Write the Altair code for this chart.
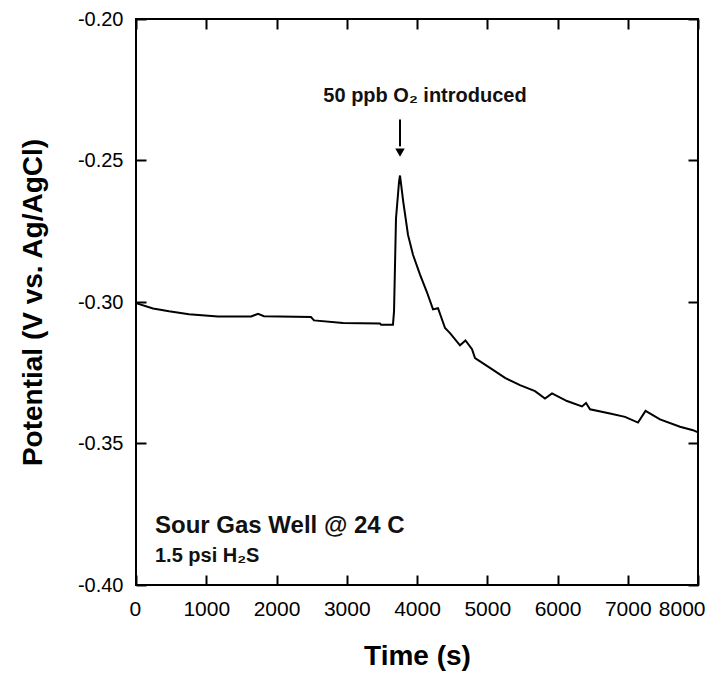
import altair as alt
import pandas as pd

# ---- data ----
time_s = [0, 242, 470, 754, 1167, 1637, 1737, 1822, 2491, 2534,
          2947, 3473, 3488, 3658, 3673, 3701, 3744, 3758, 3805, 3872,
          3943, 4043, 4138, 4228, 4299, 4399, 4470, 4612, 4690, 4783,
          4826, 5039, 5253, 5466, 5680, 5822, 5922, 6135, 6349, 6406,
          6463, 6747, 6961, 7146, 7253, 7459, 7744, 7929, 8000]
potential = [-0.3004, -0.3023, -0.3033, -0.3043, -0.3051, -0.3051, -0.3042, -0.3050, -0.3053, -0.3065,
             -0.3074, -0.3076, -0.3080, -0.3080, -0.3033, -0.2705, -0.2576, -0.2553, -0.2647, -0.2763,
             -0.2833, -0.2903, -0.2963, -0.3026, -0.3022, -0.3092, -0.3110, -0.3153, -0.3136, -0.3167,
             -0.3198, -0.3233, -0.3268, -0.3294, -0.3315, -0.3341, -0.3323, -0.3350, -0.3369, -0.3357,
             -0.3379, -0.3394, -0.3406, -0.3426, -0.3385, -0.3415, -0.3441, -0.3453, -0.3461]

x_ticks = [0, 1000, 2000, 3000, 4000, 5000, 6000, 7000, 8000]
y_ticks = [-0.40, -0.35, -0.30, -0.25, -0.20]

notes_text = ["50 ppb O\u2082 introduced", "Sour Gas Well @ 24 C", "1.5 psi H\u2082S"]
notes_t = [4114, 270, 270]
notes_v = [-0.2295, -0.3817, -0.3919]
notes_size = [20, 24, 20]
notes_align = ["center", "left", "left"]

arrow_t = [3758]
arrow_top = [-0.2355]
arrow_bottom = [-0.2450]
arrow_head = [-0.2472]

df = pd.DataFrame({"t": time_s, "v": potential})
FONT = "Liberation Sans"

xscale = alt.Scale(domain=[0, 8000], nice=False, zero=False)
yscale = alt.Scale(domain=[-0.40, -0.20], nice=False, zero=False)

common = dict(offset=-10, tickSize=10, tickWidth=2, tickColor="black",
              domain=False, grid=False, labelFont=FONT,
              labelColor="black", titleFont=FONT, titleColor="black",
              titleFontWeight="bold", titleFontSize=28,
              labelOverlap=False)

ax_bottom = alt.Axis(orient="bottom", values=x_ticks, format="d",
                     labelFontSize=21, labelFlush=True, labelFlushOffset=7,
                     labelPadding=13, title="Time (s)", titlePadding=23, **common)
ax_left = alt.Axis(orient="left", values=y_ticks,
                   labelExpr="replace(format(datum.value, '.2f'), '\u2212', '-')",
                   labelFontSize=20, labelFlush=False,
                   labelPadding=13, title="Potential (V vs. Ag/AgCl)",
                   titlePadding=30, **common)
ax_top = alt.Axis(orient="top", values=x_ticks, labels=False, title=None, **common)
ax_right = alt.Axis(orient="right", values=y_ticks, labels=False, title=None, **common)

base = alt.Chart(df)
line = base.mark_line(color="black", strokeWidth=2).encode(
    x=alt.X("t:Q", scale=xscale, axis=ax_bottom),
    y=alt.Y("v:Q", scale=yscale, axis=ax_left),
)
ghost = base.mark_line(opacity=0).encode(
    x=alt.X("t:Q", scale=xscale, axis=ax_top),
    y=alt.Y("v:Q", scale=yscale, axis=ax_right),
)

notes_df = pd.DataFrame({"t": notes_t, "v": notes_v, "label": notes_text})
texts = []
for i in range(len(notes_text)):
    texts.append(
        alt.Chart(notes_df.iloc[[i]]).mark_text(
            font=FONT, fontWeight="bold", fontSize=notes_size[i], color="#111111",
            align=notes_align[i], baseline="alphabetic"
        ).encode(
            x=alt.X("t:Q", scale=xscale, axis=None),
            y=alt.Y("v:Q", scale=yscale, axis=None),
            text="label:N",
        )
    )

arrow_df = pd.DataFrame({"t": arrow_t, "top": arrow_top, "bottom": arrow_bottom, "head": arrow_head})
arrow_line = alt.Chart(arrow_df).mark_rule(color="black", strokeWidth=2).encode(
    x=alt.X("t:Q", scale=xscale, axis=None),
    y=alt.Y("top:Q", scale=yscale, axis=None),
    y2="bottom:Q",
)
arrow_tip = alt.Chart(arrow_df).mark_point(shape="triangle-down", filled=True,
                                          color="black", size=90, opacity=1).encode(
    x=alt.X("t:Q", scale=xscale, axis=None),
    y=alt.Y("head:Q", scale=yscale, axis=None),
)

chart = alt.layer(line, ghost, arrow_line, arrow_tip, *texts).resolve_axis(
    x="independent", y="independent"
).properties(
    width=562, height=566,
    autosize=alt.AutoSizeParams(type="none"),
    padding={"left": 128, "top": 11, "right": 17, "bottom": 86},
    background="white",
).configure_view(stroke="black", strokeWidth=2)

chart.save("out.html", embed_options={"renderer": "svg", "actions": False})
